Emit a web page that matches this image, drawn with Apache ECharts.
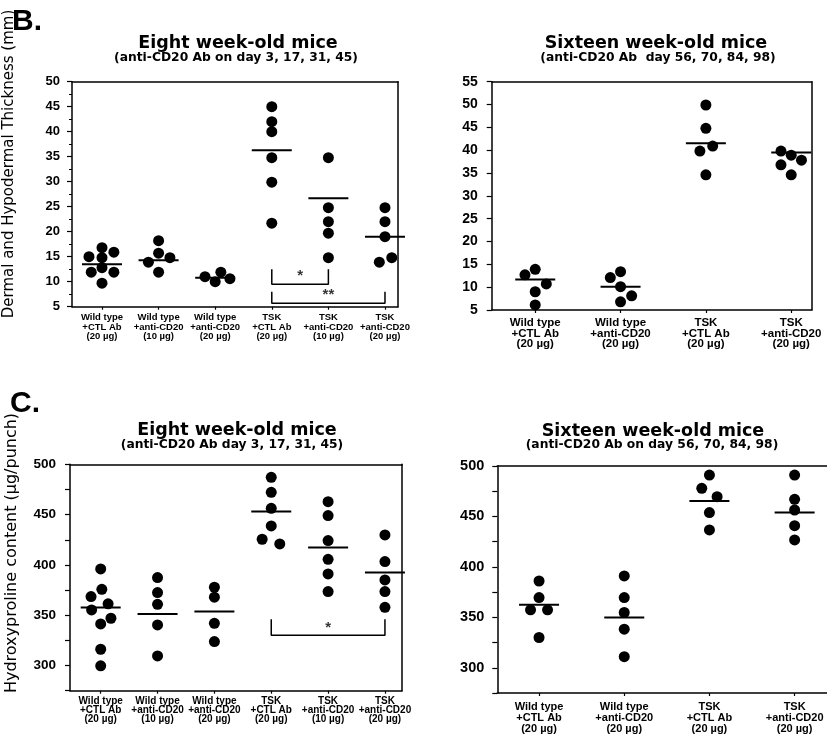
<!DOCTYPE html>
<html><head><meta charset="utf-8">
<script src="https://cdn.jsdelivr.net/npm/echarts@6/dist/echarts.min.js"></script>
<style>html,body{margin:0;padding:0;background:#fff}#c{width:827px;height:742px}</style>
</head><body><div id="c"></div>
<script>
// ---------- categories ----------
const groups8 = ['Wild type\n+CTL Ab\n(20 µg)', 'Wild type\n+anti-CD20\n(10 µg)', 'Wild type\n+anti-CD20\n(20 µg)',
                 'TSK\n+CTL Ab\n(20 µg)', 'TSK\n+anti-CD20\n(10 µg)', 'TSK\n+anti-CD20\n(20 µg)'];
const groups16 = ['Wild type\n+CTL Ab\n(20 µg)', 'Wild type\n+anti-CD20\n(20 µg)', 'TSK\n+CTL Ab\n(20 µg)', 'TSK\n+anti-CD20\n(20 µg)'];

// ---------- B: dermal + hypodermal thickness (mm) ----------
const thick8 = [
  [15.0, 16.8, 15.9, 14.8, 12.8, 11.9, 11.9, 9.7],
  [18.2, 15.7, 13.9, 14.8, 11.9],
  [11.0, 10.0, 11.9, 10.6],
  [45.0, 42.0, 40.0, 34.8, 29.9, 21.7],
  [34.8, 24.8, 22.0, 19.7, 14.8],
  [24.8, 22.0, 19.0, 13.9, 14.8]
];
const thick8Jitter = [
  [-0.23, 0, 0.21, 0, 0, -0.19, 0.21, 0],
  [0, 0, -0.18, 0.2, 0],
  [-0.18, 0, 0.1, 0.26],
  [0, 0, 0, 0, 0, 0],
  [0, 0, 0, 0, 0],
  [0, 0, 0, -0.1, 0.12]
];
const thick8Mean = [13.5, 14.3, 10.8, 36.3, 26.7, 19.0];

const thick16 = [
  [13.9, 12.7, 10.7, 9.0, 6.1],
  [13.4, 12.1, 10.1, 8.1, 6.8],
  [49.9, 44.8, 40.9, 39.8, 34.6],
  [39.8, 38.9, 37.8, 36.8, 34.6]
];
const thick16Jitter = [
  [0, -0.12, 0.13, 0, 0],
  [0, -0.12, 0, 0.13, 0],
  [0, 0, 0.08, -0.07, 0],
  [-0.12, 0, 0.12, -0.12, 0]
];
const thick16Mean = [11.7, 10.1, 41.5, 39.5];

// ---------- C: hydroxyproline content (µg/punch) ----------
const hyp8 = [
  [396, 375.8, 368.5, 361.3, 355.3, 347, 341.4, 316.2, 299.7],
  [387.4, 372.5, 360.9, 340.4, 309.6],
  [377.8, 367.9, 342, 323.8],
  [487.1, 472.2, 456.3, 438.7, 425.5, 420.9],
  [462.9, 449, 424.2, 405.6, 391, 373.5],
  [429.8, 403.3, 385.1, 373.5, 357.9]
];
const hyp8Jitter = [
  [0, 0.02, -0.17, 0.13, -0.16, 0.18, 0, 0, 0],
  [0, 0, 0, 0, 0],
  [0, 0, 0, 0],
  [0, 0, 0, 0, -0.16, 0.15],
  [0, 0, 0, 0, 0, 0],
  [0, 0, 0, 0, 0]
];
const hyp8Mean = [357.6, 351.3, 353.6, 453.0, 417.2, 392.4];

const hyp16 = [
  [386, 369.6, 357.4, 357.4, 330],
  [391, 369.6, 354.8, 338.3, 311],
  [491, 477.9, 469.6, 453.8, 436.6],
  [491, 467, 456.4, 440.9, 426.7]
];
const hyp16Jitter = [
  [0, 0, -0.1, 0.1, 0],
  [0, 0, 0, 0, 0],
  [0, -0.09, 0.09, 0, 0],
  [0, 0, 0, 0, 0]
];
const hyp16Mean = [362.4, 349.8, 465.3, 453.8];

// ---------- significance brackets ----------
const bracketsB8 = [
  {from: 4, to: 5, top: 12.5, bottom: 9.5, text: '*', textY: 11.1},
  {from: 4, to: 6, top: 8.0, bottom: 5.7, text: '**', textY: 7.3}
];
const bracketsC8 = [
  {from: 4, to: 6, top: 346, bottom: 330, text: '*', textY: 337}
];

// ---------- titles ----------
const panelLetters = ['B.', 'C.'];
const titles = ['Eight week-old mice', 'Sixteen week-old mice', 'Eight week-old mice', 'Sixteen week-old mice'];
const subtitles = ['(anti-CD20 Ab on day 3, 17, 31, 45)', '(anti-CD20 Ab  day 56, 70, 84, 98)',
                   '(anti-CD20 Ab day 3, 17, 31, 45)', '(anti-CD20 Ab on day 56, 70, 84, 98)'];
const yNames = ['Dermal and Hypodermal Thickness (mm)', 'Hydroxyproline content (µg/punch)'];

// ---------- build ----------
const BLK = '#000';
const panels = [
  {grid: {left: 72, top: 81.7, width: 326, height: 225}, xmin: 0.47, xmax: 6.23, cats: groups8,
   ymin: 5, ymax: 50, yint: 5, minor: true, vals: thick8, jit: thick8Jitter, mean: thick8Mean,
   lblSize: 9.5, lblLH: 9.6, lblMargin: 6, ylblSize: 13, ylblMargin: 12, right: true, brackets: bracketsB8},
  {grid: {left: 491.7, top: 81.7, width: 320, height: 228.3}, xmin: 0.49, xmax: 4.24, cats: groups16,
   ymin: 5, ymax: 55, yint: 5, minor: false, vals: thick16, jit: thick16Jitter, mean: thick16Mean,
   lblSize: 11.5, lblLH: 10.5, lblMargin: 8, ylblSize: 14, ylblMargin: 14, right: true, brackets: []},
  {grid: {left: 70, top: 464.3, width: 332, height: 226.4}, xmin: 0.46, xmax: 6.3, cats: groups8,
   ymin: 275, ymax: 500, yint: 25, minor: false, vals: hyp8, jit: hyp8Jitter, mean: hyp8Mean,
   lblSize: 10, lblLH: 9.2, lblMargin: 6, ylblSize: 13.5, ylblMargin: 14, right: true, brackets: bracketsC8},
  {grid: {left: 497.3, top: 466, width: 330, height: 227}, xmin: 0.51, xmax: 4.38, cats: groups16,
   ymin: 275, ymax: 500, yint: 25, minor: false, vals: hyp16, jit: hyp16Jitter, mean: hyp16Mean,
   lblSize: 11, lblLH: 11, lblMargin: 8, ylblSize: 14.5, ylblMargin: 13, right: false, brackets: []}
];

const grid = [], xAxis = [], yAxis = [], series = [];
panels.forEach((p, i) => {
  grid.push(Object.assign({show: false}, p.grid));
  const idx = p.cats.map((c, k) => k + 1);
  xAxis.push({
    gridIndex: i, type: 'value', min: p.xmin, max: p.xmax,
    axisLine: {show: true, lineStyle: {color: BLK, width: 1.5}},
    axisTick: {show: true, customValues: idx, length: 3, inside: false, lineStyle: {color: BLK, width: 1.2}},
    axisLabel: {customValues: idx, formatter: v => p.cats[Math.round(v) - 1] || '',
      fontFamily: 'Liberation Sans', fontWeight: 'bold', fontSize: p.lblSize, lineHeight: p.lblLH,
      color: BLK, margin: p.lblMargin, align: 'center'},
    splitLine: {show: false}
  });
  // top frame
  xAxis.push({
    gridIndex: i, type: 'value', position: 'top', min: p.xmin, max: p.xmax,
    axisLine: {show: true, lineStyle: {color: BLK, width: 1.5}},
    axisTick: {show: false}, axisLabel: {show: false}, splitLine: {show: false}
  });
  yAxis.push({
    gridIndex: i, type: 'value', min: p.ymin, max: p.ymax, interval: p.yint,
    axisLine: {show: true, lineStyle: {color: BLK, width: 1.5}},
    axisTick: {show: true, length: 5, lineStyle: {color: BLK, width: 1.2}},
    minorTick: {show: p.minor, splitNumber: 2, length: 3, lineStyle: {color: BLK, width: 1}},
    axisLabel: {color: BLK, fontFamily: 'Liberation Sans', fontWeight: 'bold', fontSize: p.ylblSize, margin: p.ylblMargin,
      formatter: v => (p.yint === 25 && v % 50 !== 0) ? '' : String(v)},
    splitLine: {show: false}
  });
  if (p.right) {
    yAxis.push({
      gridIndex: i, type: 'value', position: 'right', min: p.ymin, max: p.ymax,
      axisLine: {show: true, lineStyle: {color: BLK, width: 1.5}},
      axisTick: {show: false}, axisLabel: {show: false}, splitLine: {show: false}
    });
  }
});

let xi = 0, yi = 0;
panels.forEach((p, i) => {
  const xIndex = xi, yIndex = yi;
  xi += 2; yi += p.right ? 2 : 1;
  const pts = [];
  p.vals.forEach((arr, g) => arr.forEach((v, k) => pts.push([g + 1 + p.jit[g][k], v])));
  series.push({type: 'scatter', xAxisIndex: xIndex, yAxisIndex: yIndex, data: pts,
    symbol: 'circle', symbolSize: 11, itemStyle: {color: BLK, opacity: 1}, silent: true, z: 3});
  series.push({type: 'scatter', xAxisIndex: xIndex, yAxisIndex: yIndex,
    data: p.mean.map((m, g) => [g + 1, m]),
    symbol: 'rect', symbolSize: [40, 2], itemStyle: {color: BLK, opacity: 1}, silent: true, z: 4});
  p.brackets.forEach(b => {
    series.push({type: 'line', xAxisIndex: xIndex, yAxisIndex: yIndex,
      data: [[b.from, b.top], [b.from, b.bottom], [b.to, b.bottom], [b.to, b.top]],
      symbol: 'none', lineStyle: {color: BLK, width: 1.5}, silent: true});
    series.push({type: 'scatter', xAxisIndex: xIndex, yAxisIndex: yIndex,
      data: [[(b.from + b.to) / 2, b.textY]], symbolSize: 0,
      label: {show: true, position: 'inside', formatter: b.text, color: BLK, fontSize: 15,
        fontFamily: 'Liberation Sans', fontWeight: 'bold'}, silent: true});
  });
});

const T = (text, x, y, font, align, rotation) => ({type: 'text', x, y, rotation: rotation || 0,
  style: {text, font, fill: BLK, align: align || 'center', verticalAlign: 'middle'}});
const graphic = [
  T(panelLetters[0], 12, 22, 'bold 30px "Liberation Sans"', 'left'),
  T(panelLetters[1], 10, 404, 'bold 30px "Liberation Sans"', 'left'),
  T(titles[0], 238, 43.5, 'bold 17.5px "DejaVu Sans"'),
  T(subtitles[0], 236, 57.5, 'bold 12.3px "DejaVu Sans"'),
  T(titles[1], 656, 43.5, 'bold 17.5px "DejaVu Sans"'),
  T(subtitles[1], 658, 58, 'bold 12.3px "DejaVu Sans"'),
  T(titles[2], 237, 430, 'bold 17.5px "DejaVu Sans"'),
  T(subtitles[2], 232, 445, 'bold 12.3px "DejaVu Sans"'),
  T(titles[3], 653, 431, 'bold 17.5px "DejaVu Sans"'),
  T(subtitles[3], 652, 445, 'bold 12.3px "DejaVu Sans"'),
  T(yNames[0], 9, 164, '15px "DejaVu Sans"', 'center', Math.PI / 2),
  T(yNames[1], 12, 553, '16px "DejaVu Sans"', 'center', Math.PI / 2)
];

const chart = echarts.init(document.getElementById('c'), null, {renderer: 'canvas'});
chart.setOption({animation: false, grid, xAxis, yAxis, series, graphic});
</script>
</body></html>
